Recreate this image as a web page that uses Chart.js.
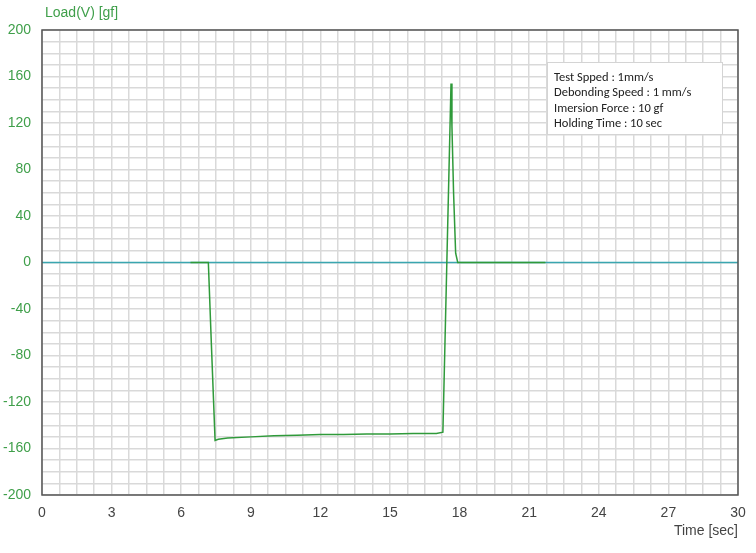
<!DOCTYPE html>
<html>
<head>
<meta charset="utf-8">
<script src="https://cdn.jsdelivr.net/npm/chart.js@4"></script>
<style>
  html, body { margin: 0; padding: 0; background: #fff; }
  #wrap { width: 756px; height: 553px; position: relative; }
</style>
</head>
<body>
<div id="wrap"><canvas id="loadChart"></canvas></div>
<script>
// data
const timeSec = [6.4, 7.1, 7.17, 7.3, 7.46, 7.6, 8.0, 9.0, 10.0, 11.0, 12.0, 13.0, 14.0, 15.0, 16.0, 17.0, 17.28, 17.45, 17.63, 17.67, 17.74, 17.83, 17.92, 19.0, 20.0, 21.0, 21.7];
const loadGf  = [0, 0, 0, -70, -153, -152, -151, -150, -149, -148.5, -148, -148, -147.5, -147.5, -147, -147, -146, 0, 154, 117, 60, 8, 0, 0, 0, 0, 0];
const baseTime = [0, 30];
const baseLoad = [0, 0];
const infoLines = ['Test Spped : 1mm/s', 'Debonding Speed : 1 mm/s', 'Imersion Force : 10 gf', 'Holding Time : 10 sec'];

const FONT = 'Arial, "Liberation Sans", sans-serif';

// titles, outer border and the info box
const decorPlugin = {
  id: 'decor',
  afterDraw(chart) {
    const ctx = chart.ctx;
    const a = chart.chartArea;
    ctx.save();
    ctx.strokeStyle = '#555';
    ctx.lineWidth = 1.5;
    ctx.strokeRect(a.left, a.top, a.right - a.left, a.bottom - a.top);

    ctx.font = '14px ' + FONT;
    ctx.fillStyle = '#3f9f4a';
    ctx.textBaseline = 'middle';
    ctx.textAlign = 'left';
    ctx.fillText('Load(V) [gf]', 45, 13);

    ctx.fillStyle = '#444';
    ctx.textAlign = 'right';
    ctx.fillText('Time [sec]', 738, 531);

    // info box
    ctx.fillStyle = '#fff';
    ctx.fillRect(547, 62, 175, 72);
    ctx.strokeStyle = '#d4d4d4';
    ctx.lineWidth = 1;
    ctx.strokeRect(547.5, 62.5, 175, 72);
    ctx.fillStyle = '#222';
    ctx.textAlign = 'left';
    ctx.font = '12.5px Carlito, Calibri, "Open Sans", sans-serif';
    infoLines.forEach((t, i) => ctx.fillText(t, 554, 78 + i * 15.2));
    ctx.restore();
  }
};

const near = (v, step) => Math.abs(v / step - Math.round(v / step)) < 1e-6;

new Chart(document.getElementById('loadChart'), {
  type: 'line',
  data: {
    datasets: [
      {
        label: 'Load',
        data: timeSec.map((t, i) => ({ x: t, y: loadGf[i] })),
        borderColor: '#2f9a3a',
        borderWidth: 1.5,
        pointRadius: 0,
        tension: 0,
        order: 1
      },
      {
        label: 'Zero',
        data: baseTime.map((t, i) => ({ x: t, y: baseLoad[i] })),
        borderColor: '#3aa6b0',
        borderWidth: 1.5,
        pointRadius: 0,
        order: 2
      }
    ]
  },
  options: {
    responsive: true,
    maintainAspectRatio: false,
    animation: false,
    layout: { padding: { left: 0, top: 30, right: 18, bottom: 0 } },
    plugins: {
      legend: { display: false },
      tooltip: { enabled: false }
    },
    scales: {
      x: {
        type: 'linear',
        min: 0,
        max: 30,
        afterFit(scale) { scale.height = 58; },
        grid: { color: '#d9d9d9', lineWidth: 1.5, drawTicks: false },
        border: { display: false },
        ticks: {
          stepSize: 0.75,
          autoSkip: false,
          maxRotation: 0,
          padding: 10,
          color: '#444',
          font: { family: FONT, size: 14 },
          callback: v => near(v, 3) ? String(Math.round(v)) : ''
        }
      },
      y: {
        min: -200,
        max: 200,
        afterFit(scale) { scale.width = 42; },
        grid: { color: '#d9d9d9', lineWidth: 1.5, drawTicks: false },
        border: { display: false },
        ticks: {
          stepSize: 10,
          autoSkip: false,
          padding: 11,
          color: '#3f9f4a',
          font: { family: FONT, size: 14 },
          callback: v => near(v, 40) ? String(Math.round(v)) : ''
        }
      }
    }
  },
  plugins: [decorPlugin]
});
</script>
</body>
</html>
